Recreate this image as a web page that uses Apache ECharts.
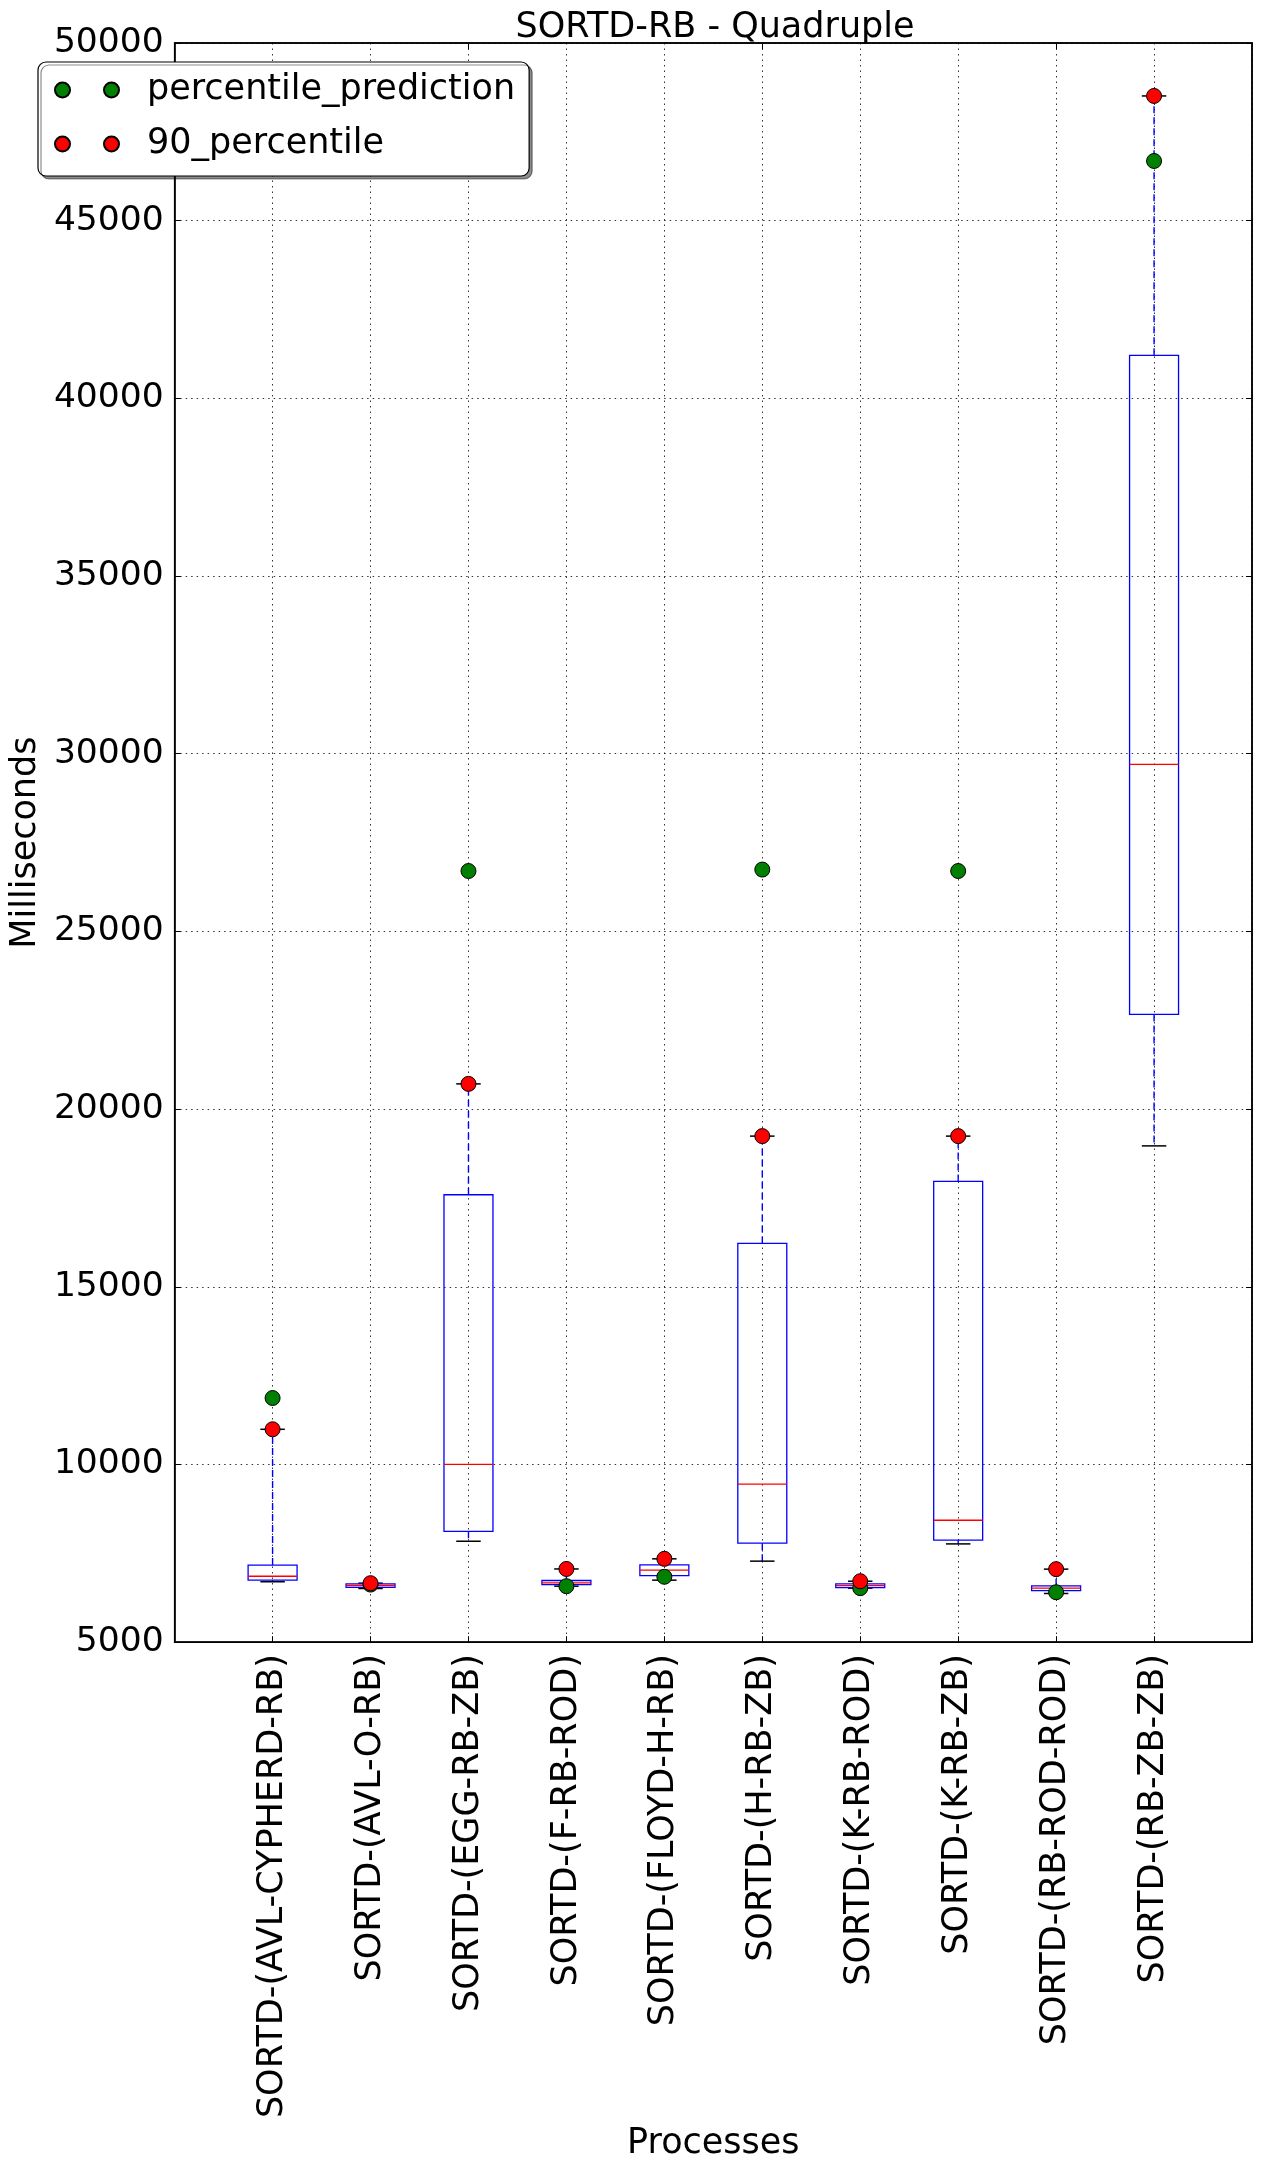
<!DOCTYPE html>
<html>
<head>
<meta charset="utf-8">
<script src="https://cdn.jsdelivr.net/npm/echarts@6/dist/echarts.min.js"></script>
<style>
html,body{margin:0;padding:0;background:#fff;}
#chart{width:1261px;height:2166px;}
</style>
</head>
<body>
<div id="chart"></div>
<script>
const categories = [
  'SORTD-(AVL-CYPHERD-RB)', 'SORTD-(AVL-O-RB)', 'SORTD-(EGG-RB-ZB)', 'SORTD-(F-RB-ROD)',
  'SORTD-(FLOYD-H-RB)', 'SORTD-(H-RB-ZB)', 'SORTD-(K-RB-ROD)', 'SORTD-(K-RB-ZB)',
  'SORTD-(RB-ROD-ROD)', 'SORTD-(RB-ZB-ZB)'
];
const whiskerLow  = [6700, 6510, 7840, 6575, 6745, 7280, 6520, 7765, 6370, 18965];
const q1          = [6745, 6540, 8120, 6620, 6875, 7785, 6535, 7870, 6450, 22665];
const median      = [6855, 6595, 10005, 6670, 7025, 9445, 6590, 8430, 6520, 29700];
const q3          = [7170, 6640, 17590, 6735, 7175, 16220, 6640, 17965, 6585, 41210];
const whiskerHigh = [10990, 6660, 20710, 7060, 7345, 19240, 6715, 19240, 7055, 48510];
const percentilePrediction = [11870, 6620, 26700, 6575, 6840, 26740, 6520, 26700, 6405, 46680];
const percentile90 = [10990, 6660, 20710, 7060, 7345, 19240, 6715, 19240, 7055, 48510];
const yTicks = [5000, 10000, 15000, 20000, 25000, 30000, 35000, 40000, 45000, 50000];

const FONT = 'DejaVu Sans';
const FS = 35;
const xCats = [''].concat(categories, ['']);
const boxData = categories.map((c, i) => [c, whiskerLow[i], q1[i], median[i], q3[i], whiskerHigh[i]]);
const greenData = categories.map((c, i) => [c, percentilePrediction[i]]);
const redData = categories.map((c, i) => [c, percentile90[i]]);

function renderBox(params, api) {
  const cat = api.value(0);
  const unit = api.size([1, 0])[0];
  const half = unit * 0.25;
  const capHalf = unit * 0.125;
  const pLow = api.coord([cat, api.value(1)]);
  const pQ1 = api.coord([cat, api.value(2)]);
  const pMed = api.coord([cat, api.value(3)]);
  const pQ3 = api.coord([cat, api.value(4)]);
  const pHigh = api.coord([cat, api.value(5)]);
  const x = pQ1[0];
  return {
    type: 'group',
    children: [
      {type: 'line', shape: {x1: x, y1: pQ3[1], x2: x, y2: pHigh[1]},
       style: {stroke: '#0000ff', lineWidth: 1.4, lineDash: [7, 4]}},
      {type: 'line', shape: {x1: x, y1: pQ1[1], x2: x, y2: pLow[1]},
       style: {stroke: '#0000ff', lineWidth: 1.4, lineDash: [7, 4]}},
      {type: 'line', shape: {x1: x - capHalf, y1: pHigh[1], x2: x + capHalf, y2: pHigh[1]},
       style: {stroke: '#000', lineWidth: 1.5}},
      {type: 'line', shape: {x1: x - capHalf, y1: pLow[1], x2: x + capHalf, y2: pLow[1]},
       style: {stroke: '#000', lineWidth: 1.5}},
      {type: 'rect', shape: {x: x - half, y: pQ3[1], width: half * 2, height: pQ1[1] - pQ3[1]},
       style: {stroke: '#0000ff', fill: null, lineWidth: 1.3}},
      {type: 'line', shape: {x1: x - half, y1: pMed[1], x2: x + half, y2: pMed[1]},
       style: {stroke: '#ff0000', lineWidth: 1.3}}
    ]
  };
}

const chart = echarts.init(document.getElementById('chart'), null, {renderer: 'canvas'});
const gridLine = {show: true, lineStyle: {color: '#000', width: 0.8, type: [1.5, 4]}};
chart.setOption({
  animation: false,
  backgroundColor: '#fff',
  textStyle: {fontFamily: FONT},
  title: {
    text: 'SORTD-RB - Quadruple',
    left: 710, top: 5, textAlign: 'center',
    textStyle: {fontFamily: FONT, fontSize: FS, fontWeight: 'normal', color: '#000'}
  },
  legend: {
    orient: 'vertical',
    left: 38, top: 62,
    padding: [8, 14, 12, 16],
    itemGap: 14,
    itemWidth: 64, itemHeight: 15,
    icon: 'path://M0,7.5a7.5,7.5 0 1,0 15,0a7.5,7.5 0 1,0 -15,0M49,7.5a7.5,7.5 0 1,0 15,0a7.5,7.5 0 1,0 -15,0',
    backgroundColor: '#fff',
    borderColor: '#000', borderWidth: 1.2, borderRadius: 8,
    shadowColor: 'rgba(0,0,0,0.45)', shadowBlur: 0, shadowOffsetX: 3, shadowOffsetY: 3,
    textStyle: {fontFamily: FONT, fontSize: FS, color: '#000', lineHeight: 40, padding: [0, 0, 0, 23]},
    data: ['percentile_prediction', '90_percentile']
  },
  grid: {left: 168, right: 9, top: 43, bottom: 523, show: true, borderColor: '#000', borderWidth: 1.5, containLabel: false},
  xAxis: [{
    type: 'category', data: xCats, boundaryGap: false,
    name: 'Processes', nameLocation: 'middle', nameGap: 475,
    nameTextStyle: {fontFamily: FONT, fontSize: FS, color: '#000'},
    axisLine: {show: true, lineStyle: {color: '#000', width: 1.5}},
    axisTick: {show: true, inside: true, length: 6, lineStyle: {color: '#000'}},
    axisLabel: {interval: 0, rotate: 90, margin: 12, fontFamily: FONT, fontSize: FS, color: '#000'},
    splitLine: gridLine
  }, {
    type: 'category', data: xCats, boundaryGap: false, position: 'top',
    axisLine: {show: true, lineStyle: {color: '#000', width: 1.5}},
    axisTick: {show: true, inside: true, length: 6, lineStyle: {color: '#000'}},
    axisLabel: {show: false}, splitLine: {show: false}
  }],
  yAxis: [{
    type: 'value', min: 5000, max: 50000, interval: 5000,
    name: 'Milliseconds', nameLocation: 'middle', nameRotate: 90, nameGap: 119,
    nameTextStyle: {fontFamily: FONT, fontSize: FS, color: '#000'},
    axisLine: {show: true, lineStyle: {color: '#000', width: 1.5}},
    axisTick: {show: true, inside: true, length: 6, lineStyle: {color: '#000'}},
    axisLabel: {margin: 11, fontFamily: FONT, fontSize: 34.5, color: '#000',
      formatter: v => yTicks.indexOf(v) >= 0 ? String(v) : ''},
    splitLine: gridLine
  }, {
    type: 'value', min: 5000, max: 50000, interval: 5000, position: 'right',
    axisLine: {show: true, lineStyle: {color: '#000', width: 1.5}},
    axisTick: {show: true, inside: true, length: 6, lineStyle: {color: '#000'}},
    axisLabel: {show: false}, splitLine: {show: false}
  }],
  series: [
    {
      type: 'custom', name: 'box', renderItem: renderBox, data: boxData,
      encode: {x: 0, y: [1, 2, 3, 4, 5]}, z: 2, silent: true
    },
    {
      type: 'scatter', name: 'percentile_prediction', data: greenData,
      symbol: 'circle', symbolSize: 15, z: 3,
      itemStyle: {color: '#008000', borderColor: '#000', borderWidth: 1, opacity: 1}
    },
    {
      type: 'scatter', name: '90_percentile', data: redData,
      symbol: 'circle', symbolSize: 15, z: 4,
      itemStyle: {color: '#ff0000', borderColor: '#000', borderWidth: 1, opacity: 1}
    }
  ]
});
</script>
</body>
</html>
